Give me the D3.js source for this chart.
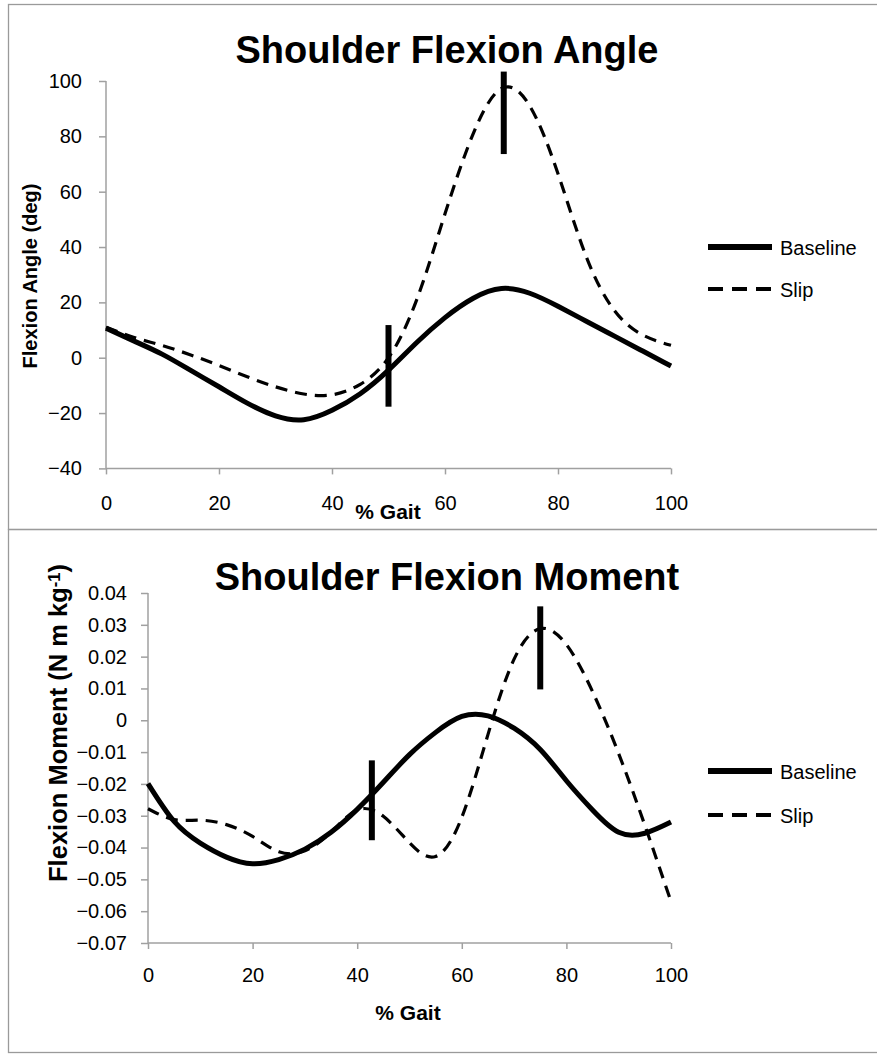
<!DOCTYPE html>
<html>
<head>
<meta charset="utf-8">
<script src="https://cdnjs.cloudflare.com/ajax/libs/d3/7.8.5/d3.min.js"></script>
<style>
	body { margin: 0; background: #fff; }
	text { font-family: "Liberation Sans", Arial, sans-serif; fill: #000; }
	.axis path, .axis line { stroke: #a0a0a0; stroke-width: 1.5px; }
	.axis text { font-size: 20px; }
</style>
</head>
<body>
<svg width="877" height="1055"></svg>
<script>

// % gait sample points shared by all series
var gait = [0, 5, 10, 15, 20, 25, 30, 35, 40, 45, 50, 55, 60, 65, 70, 75, 80, 85, 90, 95, 100];

// shoulder flexion angle (deg)
var angleBaseline = [10.7, 6.0, 1.2, -4.6, -10.5, -16.4, -21.0, -22.4, -19.0, -13.0, -4.5, 5.5, 14.5, 21.5, 25, 23.3, 18.6, 13.2, 7.8, 2.4, -3];
var angleSlip = [11, 7.3, 4.4, 1, -2.8, -6.9, -10.5, -13.1, -13.4, -9.6, 0, 21, 52, 81, 97.3, 91, 66.5, 36.5, 17, 8.2, 4.5];
var angleTicks = [-40, -20, 0, 20, 40, 60, 80, 100];
var angleMarkers = [{x: 50, lo: -17.7, hi: 11.8}, {x: 70.4, lo: 73.6, hi: 103.4}];

// shoulder flexion moment (N m kg-1)
var momentBaseline = [-0.0199, -0.0318, -0.0386, -0.043, -0.0451, -0.0438, -0.0405, -0.0352, -0.028, -0.0195, -0.0108, -0.0038, 0.0012, 0.0014, -0.0025, -0.0092, -0.019, -0.0282, -0.0352, -0.0355, -0.032];
var momentSlip = [-0.0278, -0.0312, -0.0314, -0.0328, -0.0365, -0.0413, -0.041, -0.0352, -0.0282, -0.0302, -0.0385, -0.0428, -0.0305, -0.0045, 0.0192, 0.0288, 0.0238, 0.009, -0.0105, -0.033, -0.057];
var momentTicks = [-0.07, -0.06, -0.05, -0.04, -0.03, -0.02, -0.01, 0, 0.01, 0.02, 0.03, 0.04];
var momentMarkers = [{x: 42.8, lo: -0.0377, hi: -0.0126}, {x: 75, lo: 0.0097, hi: 0.0358}];

var gaitTicks = [0, 20, 40, 60, 80, 100];
var seriesNames = ["Baseline", "Slip"];

var svg = d3.select("svg");

function drawChart(opt) {
	var g = svg.append("g");

	// chart frame
	g.append("rect")
		.attr("x", 8.5).attr("y", opt.top + 0.5)
		.attr("width", 900).attr("height", opt.height)
		.style("fill", "none").style("stroke", "#9a9a9a").style("stroke-width", 1.3);

	var x = d3.scaleLinear().domain([0, 100]).range(opt.xRange);
	var y = d3.scaleLinear().domain(opt.yDomain).range(opt.yRange);

	g.append("g")
		.attr("class", "axis")
		.attr("transform", "translate(0," + opt.yRange[0] + ")")
		.call(d3.axisBottom(x).tickValues(gaitTicks).tickSize(6).tickSizeOuter(0).tickPadding(opt.xPad))
		.call(function(a) { a.select(".domain").attr("d", "M" + opt.xRange[0] + ",0H" + opt.xRange[1]); });

	g.append("g")
		.attr("class", "axis")
		.attr("transform", "translate(" + opt.xRange[0] + ",0)")
		.call(d3.axisLeft(y).tickValues(opt.yTicks).tickSize(7).tickSizeOuter(0).tickPadding(opt.yPad).tickFormat(opt.fmt))
		.call(function(a) { a.select(".domain").attr("d", "M0," + opt.yRange[0] + "V" + opt.yRange[1]); });

	var line = d3.line()
		.x(function(d, i) { return x(gait[i]); })
		.y(function(d) { return y(d); })
		.curve(d3.curveNatural);

	g.append("path")
		.datum(opt.slip)
		.attr("d", line)
		.style("fill", "none").style("stroke", "#000")
		.style("stroke-width", 3.2).style("stroke-dasharray", "12,8");

	g.append("path")
		.datum(opt.baseline)
		.attr("d", line)
		.style("fill", "none").style("stroke", "#000")
		.style("stroke-width", 5).style("stroke-linejoin", "round");

	g.selectAll(".marker")
		.data(opt.markers)
		.enter().append("line")
			.attr("class", "marker")
			.attr("x1", function(d) { return x(d.x); })
			.attr("x2", function(d) { return x(d.x); })
			.attr("y1", function(d) { return y(d.lo); })
			.attr("y2", function(d) { return y(d.hi); })
			.style("stroke", "#000").style("stroke-width", 6);

	// titles
	g.append("text")
		.attr("x", 447).attr("y", opt.titleY)
		.attr("text-anchor", "middle")
		.style("font-size", "38px").style("font-weight", "bold")
		.text(opt.title);

	g.append("text")
		.attr("x", opt.gaitLabel[0]).attr("y", opt.gaitLabel[1])
		.attr("text-anchor", "middle")
		.style("font-size", "21px").style("font-weight", "bold")
		.text("% Gait");

	var yl = g.append("text")
		.attr("transform", "translate(" + opt.yLabel[0] + "," + opt.yLabel[1] + ") rotate(-90)")
		.attr("text-anchor", "middle")
		.style("font-size", opt.yLabelSize).style("font-weight", "bold");
	yl.append("tspan").text(opt.yTitle);
	if (opt.yTitleSup) {
		yl.append("tspan").attr("dy", "-0.45em").style("font-size", "0.65em").text(opt.yTitleSup);
		yl.append("tspan").attr("dy", "0.3em").text(")");
	}

	// legend
	var leg = g.selectAll(".legend")
		.data(seriesNames)
		.enter().append("g")
			.attr("class", "legend")
			.attr("transform", function(d, i) { return "translate(0," + opt.legendY[i] + ")"; });

	leg.append("line")
		.attr("x1", 708).attr("x2", 772)
		.style("stroke", "#000")
		.style("stroke-width", function(d, i) { return i == 0 ? 6 : 3.8; })
		.style("stroke-dasharray", function(d, i) { return i == 0 ? null : "15,9"; });

	leg.append("text")
		.attr("x", 780).attr("dy", "0.42em")
		.style("font-size", "20px")
		.text(function(d) { return d; });
}

drawChart({
	top: 4, height: 525,
	xRange: [106, 671], yDomain: [-40, 100], yRange: [468.4, 81],
	yTicks: angleTicks, fmt: d3.format("d"), xPad: 21, yPad: 17,
	baseline: angleBaseline, slip: angleSlip, markers: angleMarkers,
	title: "Shoulder Flexion Angle", titleY: 63,
	gaitLabel: [388, 519],
	yLabel: [37, 276], yLabelSize: "20px", yTitle: "Flexion Angle (deg)",
	legendY: [247, 289]
});

drawChart({
	top: 529, height: 523,
	xRange: [148, 671], yDomain: [-0.07, 0.04], yRange: [943, 593],
	yTicks: momentTicks, fmt: function(d) { return d == 0 ? "0" : d3.format(".2f")(d); }, xPad: 19, yPad: 14,
	baseline: momentBaseline, slip: momentSlip, markers: momentMarkers,
	title: "Shoulder Flexion Moment", titleY: 590,
	gaitLabel: [408, 1020],
	yLabel: [67, 723], yLabelSize: "25.5px", yTitle: "Flexion Moment (N m kg", yTitleSup: "-1",
	legendY: [771, 815]
});

</script>
</body>
</html>
